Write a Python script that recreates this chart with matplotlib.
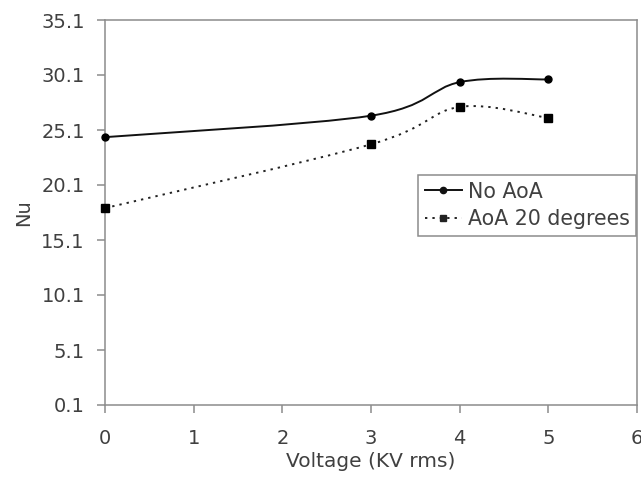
import numpy as np
import matplotlib
matplotlib.use("Agg")
import matplotlib.pyplot as plt
from matplotlib.path import Path
from matplotlib.patches import PathPatch
from matplotlib.lines import Line2D

voltage = [0, 3, 4, 5]
nu_no_aoa = [24.45, 26.4, 29.45, 29.7]
nu_aoa20 = [18.0, 23.8, 27.2, 26.2]
series_names = ["No AoA", "AoA 20 degrees"]
yticks = [0.1, 5.1, 10.1, 15.1, 20.1, 25.1, 30.1, 35.1]
xticks = [0, 1, 2, 3, 4, 5, 6]

plt.rcParams['font.family'] = ['DejaVu Sans']
txt = '#404040'
gray = '#8c8c8c'
fs = 14

fig = plt.figure(figsize=(6.41, 4.79), dpi=100)
ax = fig.add_axes([105/641, 1-405/479, 532/641, 385/479])


def smooth_path(x, y, t=0.5):
    # Excel-like smoothed line: Catmull-Rom converted to cubic Bezier segments
    x = np.asarray(x, float); y = np.asarray(y, float)
    n = len(x)
    verts = [(x[0], y[0])]
    codes = [Path.MOVETO]
    for i in range(n - 1):
        p0 = np.array([x[max(i-1, 0)], y[max(i-1, 0)]])
        p1 = np.array([x[i], y[i]])
        p2 = np.array([x[i+1], y[i+1]])
        p3 = np.array([x[min(i+2, n-1)], y[min(i+2, n-1)]])
        c1 = p1 + (p2 - p0) * t / 3
        c2 = p2 - (p3 - p1) * t / 3
        verts += [tuple(c1), tuple(c2), tuple(p2)]
        codes += [Path.CURVE4] * 3
    return Path(verts, codes)


ax.add_patch(PathPatch(smooth_path(voltage, nu_no_aoa), facecolor='none',
                       edgecolor='#111111', lw=1.4, linestyle='-'))
ax.add_patch(PathPatch(smooth_path(voltage, nu_aoa20), facecolor='none',
                       edgecolor='#222222', lw=1.4, linestyle=(0, (1.2, 2.6))))
ax.plot(voltage, nu_no_aoa, linestyle='none', marker='o', ms=5, color='black',
        clip_on=False, zorder=3)
ax.plot(voltage, nu_aoa20, linestyle='none', marker='s', ms=5.5, color='black',
        clip_on=False, zorder=3)

ax.set_xlim(0, 6)
ax.set_ylim(0.1, 35.1)
ax.set_xticks(xticks)
ax.set_yticks(yticks)
ax.set_yticklabels([f"{v:.1f}" for v in yticks])
for s in ax.spines.values():
    s.set_color(gray)
    s.set_linewidth(1.1)
ax.tick_params(direction='out', length=5.5, width=1.1, color=gray, labelcolor=txt,
               labelsize=fs)
ax.tick_params(axis='y', pad=9)
ax.tick_params(axis='x', pad=12)
ax.set_xlabel("Voltage (KV rms)", color=txt, fontsize=14.5, labelpad=3)
ax.set_ylabel("Nu", color=txt, fontsize=fs, labelpad=6)

handles = [Line2D([], [], color='#111111', lw=1.4, marker='o', ms=4.5),
           Line2D([], [], color='#222222', lw=1.4, linestyle=(0, (1.2, 2.6)),
                  marker='s', ms=4.5)]
leg = fig.legend(handles, series_names, loc='upper left',
                 bbox_to_anchor=(418/641, 1-175/479), frameon=True,
                 fancybox=False, fontsize=14.8, handlelength=1.8,
                 handletextpad=0.3, borderpad=0.32, labelspacing=0.36,
                 borderaxespad=0, framealpha=1)
leg.get_frame().set_edgecolor(gray)
leg.get_frame().set_linewidth(1.1)
for t in leg.get_texts():
    t.set_color(txt)

fig.savefig("out.png", dpi=100, facecolor='white')
